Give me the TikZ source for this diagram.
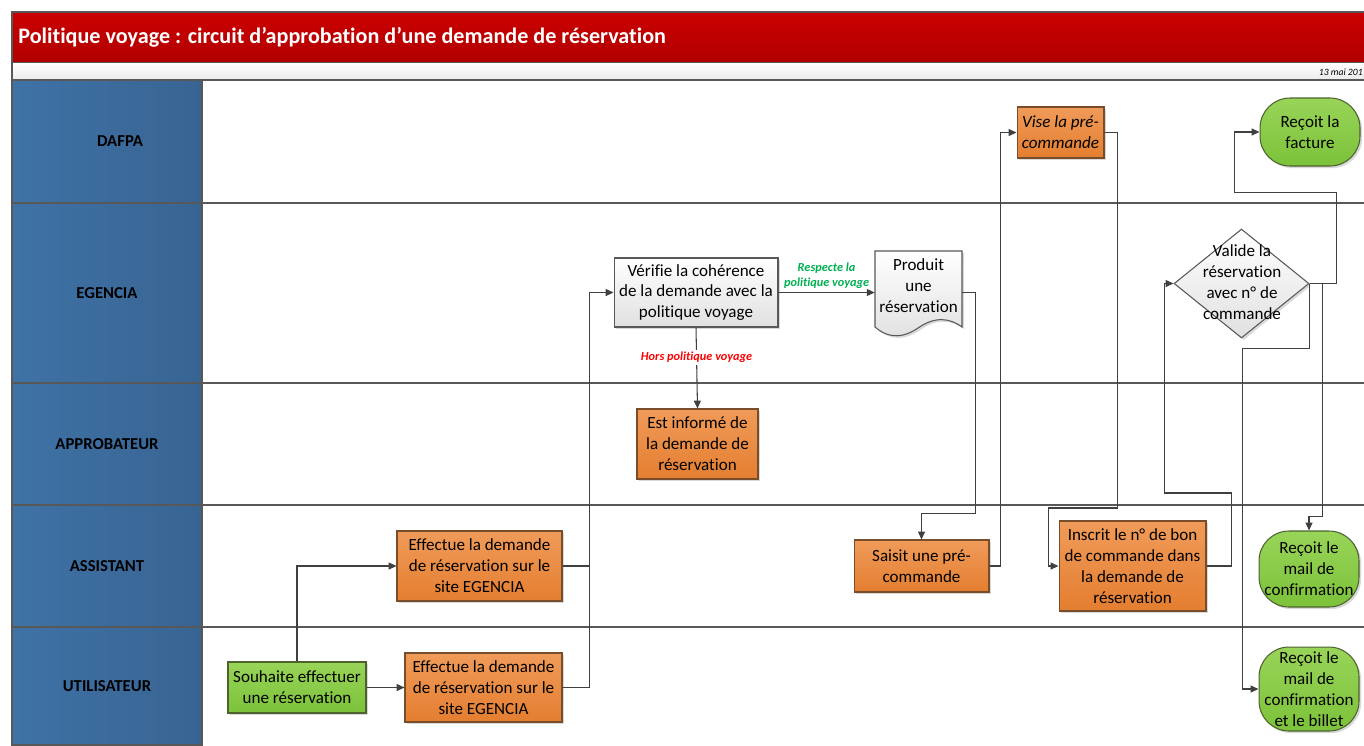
\documentclass[tikz,border=0pt]{standalone}
\usepackage{fontspec}
\setmainfont[Ligatures=NoCommon]{Carlito}
\usepackage{tikz}
\usetikzlibrary{shapes,arrows,arrows.meta,positioning,shadows}

\definecolor{titletop}{RGB}{204,0,0}
\definecolor{titlebot}{RGB}{176,0,0}
\definecolor{headleft}{RGB}{63,114,166}
\definecolor{headright}{RGB}{56,100,146}
\definecolor{orangetop}{RGB}{240,155,90}
\definecolor{orangebot}{RGB}{228,126,48}
\definecolor{orangeline}{RGB}{120,78,42}
\definecolor{greentop}{RGB}{152,212,88}
\definecolor{greenbot}{RGB}{124,194,58}
\definecolor{greenline}{RGB}{78,98,48}
\definecolor{frameline}{RGB}{88,88,88}
\definecolor{flowline}{RGB}{64,64,64}
\definecolor{okgreen}{RGB}{0,176,80}

\begin{document}
\begin{tikzpicture}[x=0.02cm, y=-0.02cm,
  boxtext/.style={font=\fontsize{9.7}{11.9}\selectfont, align=center, inner sep=0pt},
  shade box/.style={drop shadow={shadow xshift=1.2pt, shadow yshift=-1.2pt, fill=black, opacity=0.15}},
  orangebox/.style={boxtext, shade box, draw=orangeline, line width=0.6pt, top color=orangetop, bottom color=orangebot},
  greenbox/.style={boxtext, shade box, draw=greenline, line width=0.6pt, top color=greentop, bottom color=greenbot},
  greybox/.style={boxtext, shade box, draw=frameline, line width=0.6pt, top color=white, bottom color=black!12},
  endbox/.style={greenbox, rounded corners=0.6cm},
  lanehead/.style={draw=frameline, line width=0.6pt, left color=headleft, right color=headright},
  lanelabel/.style={font=\fontsize{9.5}{11}\selectfont\bfseries, text=black},
  laneline/.style={draw=frameline, line width=0.7pt},
  flow/.style={draw=flowline, line width=0.6pt, -{Triangle[length=4.5pt,width=4pt]}},
  joinline/.style={draw=flowline, line width=0.6pt},
  choice/.style={font=\fontsize{7}{8.4}\selectfont\bfseries\itshape, align=center, inner sep=1pt}
]
\useasboundingbox (0,0) rectangle (1364,745);

% Title bar
\shade[top color=titletop, bottom color=titlebot] (12,12) rectangle (1364,63);
\draw[frameline, line width=0.6pt] (1364,12) -- (12,12) -- (12,63) -- (1364,63);
\node[anchor=west, text=white, font=\fontsize{12.6}{15}\selectfont\bfseries, inner sep=0pt] (title) at (18,37)
  {Politique voyage : circuit d’approbation d’une demande de réservation};
\shade[top color=white, bottom color=black!8] (12,63) rectangle (1364,80);
\draw[frameline, line width=0.6pt] (12,63) -- (12,80) -- (1364,80);
\node[anchor=east, font=\fontsize{5.5}{6}\selectfont\itshape, inner sep=0pt] (date) at (1363,72) {13 mai 201};

% Lanes
\foreach \ya/\yb/\xl/\lname in {80/203/120/DAFPA, 203/383/107/EGENCIA, 383/505/107/APPROBATEUR,
                                505/627/107/ASSISTANT, 627/745/107/UTILISATEUR} {
    \draw[lanehead] (12,\ya) rectangle (202,\yb);
    \node[lanelabel] (lane-\lname) at (\xl,{(\ya+\yb)/2}) {\lname};
}
\foreach \y in {203,383,505,627} {
    \draw[laneline] (202,\y) -- (1364,\y);
}

% Steps
\node[greenbox, minimum width=2.76cm, minimum height=1.02cm] (souhaite) at (297,687.5) {Souhaite effectuer\\une réservation};
\node[orangebox, minimum width=3.14cm, minimum height=1.38cm] (effU) at (483.5,687.5) {Effectue la demande\\de réservation sur le\\site EGENCIA};
\node[orangebox, minimum width=3.30cm, minimum height=1.40cm] (effA) at (479.5,566) {Effectue la demande\\de réservation sur le\\site EGENCIA};
\node[greybox, minimum width=3.28cm, minimum height=1.38cm] (verif) at (696,292.5) {Vérifie la cohérence\\de la demande avec la\\politique voyage};
\node[orangebox, minimum width=2.42cm, minimum height=1.40cm] (informe) at (697.5,444) {Est informé de\\la demande de\\réservation};

\draw[frameline, line width=0.6pt, top color=white, bottom color=black!12, shade box]
  (875,251) -- (962,251) -- (962,327) .. controls (950,318) and (935,316) .. (918,328)
  .. controls (905,337) and (890,340) .. (875,327) -- cycle;
\node[boxtext, minimum width=1.74cm] (prod) at (918.5,286) {Produit\\une\\réservation};

\node[orangebox, minimum width=2.70cm, minimum height=1.04cm] (saisit) at (921.5,566) {Saisit une pré-\\commande};
\node[orangebox, minimum width=1.74cm, minimum height=1.02cm, font=\fontsize{9.7}{11.9}\selectfont\itshape] (vise) at (1060.5,132.5) {Vise la pré-\\commande};
\node[orangebox, minimum width=2.94cm, minimum height=1.80cm] (inscrit) at (1132.5,566) {Inscrit le n° de bon\\de commande dans\\la demande de\\réservation};

\node[diamond, draw=frameline, line width=0.6pt, top color=white, bottom color=black!12, shade box,
      inner sep=0pt, minimum width=2.70cm, minimum height=2.18cm] (valshape) at (1241.5,283.5) {};
\node[boxtext] (valide) at (1242,282) {Valide la\\réservation\\avec n° de\\commande};

\node[endbox, minimum width=2.00cm, minimum height=1.36cm] (facture) at (1310,132) {Reçoit la\\facture};
\node[endbox, minimum width=2.00cm, minimum height=1.52cm] (mail) at (1309,569) {Reçoit le\\mail de\\confirmation};
\node[endbox, minimum width=2.00cm, minimum height=1.68cm] (billet) at (1309,689) {Reçoit le\\mail de\\confirmation\\et le billet};

% Arrows
\draw[flow] (souhaite) -- (effU);
\draw[flow] (souhaite.north) |- (effA.west);
\draw[flow] (effU.east) -- ++(27,0) |- (verif.west);
\draw[joinline] (effA.east) -- ++(27,0);
\draw[flow] (verif.east) -- node[choice, text=okgreen, above=1pt] (oklabel) {Respecte la\\politique voyage} (verif.east -| prod.west);
\draw[flow] (verif.south) -- node[choice, text=red, fill=white, pos=0.37] (nolabel) {Hors politique voyage} (informe.north);
\draw[flow] (verif.east -| prod.east) -- ++(13,0) -- ++(0,221) -| (saisit.north);
\draw[flow] (saisit.east) -- ++(11,0) |- (vise.west);
\draw[flow] (vise.east) -- ++(13,0) -- ++(0,375.5) -- ++(-69,0) |- (inscrit.west);
\draw[flow] (inscrit.east) -- ++(25,0) -- ++(0,-73) -- ++(-67,0) |- (valshape.west);
\draw[flow] (valshape.east) -- ++(27,0) -- ++(0,-91) -- ++(-102,0) |- (facture.west);
\draw[flow] (valshape.east) -- ++(13,0) -- ++(0,233) -| (mail.north);
\draw[flow] (valshape.east) -- ++(0,65) -- ++(-67,0) |- (billet.west);

\end{tikzpicture}
\end{document}
